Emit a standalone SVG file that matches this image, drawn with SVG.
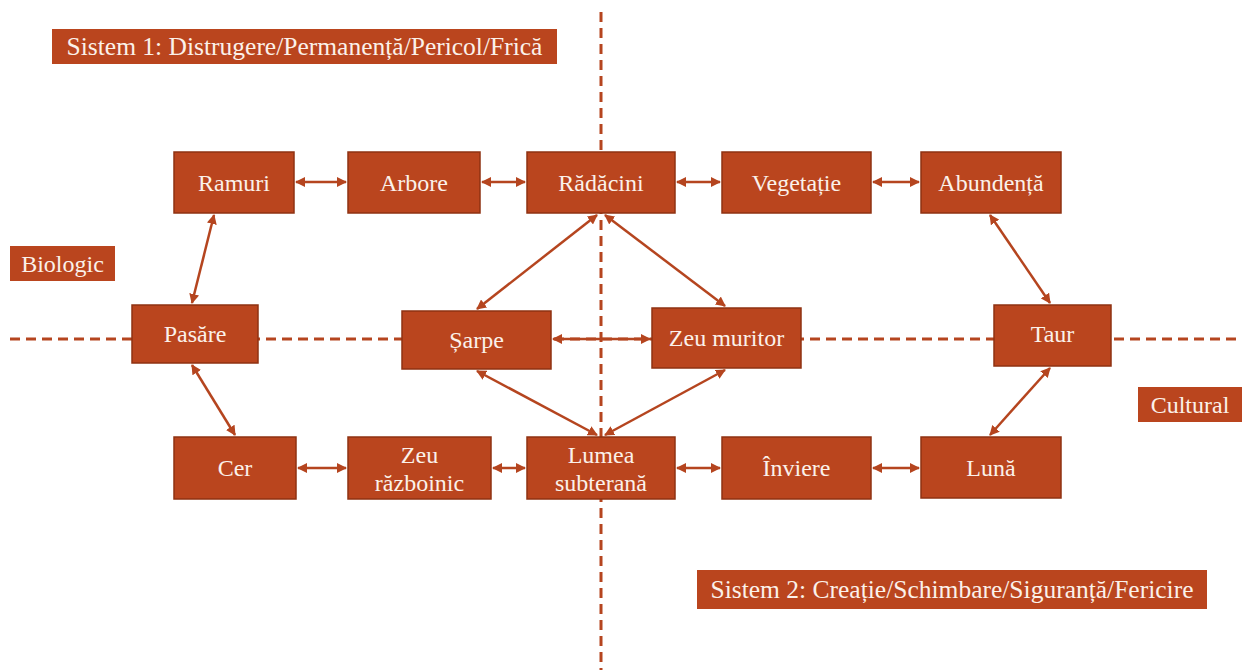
<svg xmlns="http://www.w3.org/2000/svg" width="1242" height="670" viewBox="0 0 1242 670">
<style>
.box{fill:#BA451E;stroke:#8F3212;stroke-width:1.5}
.lbl{fill:#BA451E}
.t{font-family:"Liberation Serif",serif;font-size:24px;fill:#FBF1EA;text-anchor:middle;dominant-baseline:central}
.s{font-size:25.5px}
.dash{stroke:#B5451F;stroke-width:3;stroke-dasharray:10 6;fill:none}
.c{stroke:#B5451F;stroke-width:2.5;fill:none;marker-start:url(#ah);marker-end:url(#ah)}
</style>
<defs>
<marker id="ah" viewBox="0 0 10 10" refX="9" refY="5" markerWidth="4" markerHeight="4" orient="auto-start-reverse" markerUnits="strokeWidth">
<path d="M0,0 L10,5 L0,10 z" fill="#B5451F"/>
</marker>
</defs>
<g id="guides">
<line class="dash" x1="601" y1="12" x2="601" y2="670"/>
<line class="dash" x1="10" y1="339" x2="1242" y2="339"/>
</g>
<g id="connectors">
<line class="c" x1="296" y1="182" x2="346" y2="182"/>
<line class="c" x1="482" y1="182" x2="525" y2="182"/>
<line class="c" x1="677" y1="182" x2="720" y2="182"/>
<line class="c" x1="873" y1="182" x2="919" y2="182"/>
<line class="c" x1="214" y1="215" x2="192" y2="303"/>
<line class="c" x1="192" y1="365" x2="235" y2="435"/>
<line class="c" x1="597" y1="215" x2="477" y2="309"/>
<line class="c" x1="605" y1="215" x2="725" y2="306"/>
<line class="c" x1="553" y1="339" x2="650" y2="339"/>
<line class="c" x1="597" y1="435" x2="477" y2="371"/>
<line class="c" x1="605" y1="435" x2="725" y2="370"/>
<line class="c" x1="990" y1="215" x2="1050" y2="303"/>
<line class="c" x1="1050" y1="368" x2="990" y2="435"/>
<line class="c" x1="298" y1="468" x2="346" y2="468"/>
<line class="c" x1="493" y1="468" x2="525" y2="468"/>
<line class="c" x1="677" y1="468" x2="720" y2="468"/>
<line class="c" x1="873" y1="468" x2="919" y2="468"/>
</g>
<g id="sistem1"><rect class="lbl" x="52" y="29" width="505" height="35"/><text class="t s" x="304.5" y="46.5">Sistem 1: Distrugere/Permanență/Pericol/Frică</text></g>
<g id="sistem2"><rect class="lbl" x="697" y="570" width="510" height="39"/><text class="t s" x="952" y="589.5">Sistem 2: Creație/Schimbare/Siguranță/Fericire</text></g>
<g id="biologic"><rect class="lbl" x="10" y="246" width="105" height="35"/><text class="t" x="62.5" y="263.5">Biologic</text></g>
<g id="cultural"><rect class="lbl" x="1138" y="387" width="104" height="35"/><text class="t" x="1190" y="404.5">Cultural</text></g>
<g id="ramuri"><rect class="box" x="174" y="152" width="120" height="61"/><text class="t" x="234" y="182.5">Ramuri</text></g>
<g id="arbore"><rect class="box" x="348" y="152" width="132" height="61"/><text class="t" x="414" y="182.5">Arbore</text></g>
<g id="radacini"><rect class="box" x="527" y="152" width="148" height="61"/><text class="t" x="601" y="182.5">Rădăcini</text></g>
<g id="vegetatie"><rect class="box" x="722" y="152" width="149" height="61"/><text class="t" x="796.5" y="182.5">Vegetație</text></g>
<g id="abundenta"><rect class="box" x="921" y="152" width="140" height="61"/><text class="t" x="991" y="182.5">Abundență</text></g>
<g id="pasare"><rect class="box" x="132" y="305" width="126" height="58"/><text class="t" x="195" y="334">Pasăre</text></g>
<g id="sarpe"><rect class="box" x="402" y="311" width="149" height="58"/><text class="t" x="476.5" y="340">Șarpe</text></g>
<g id="zeu-muritor"><rect class="box" x="652" y="308" width="149" height="60"/><text class="t" x="726.5" y="338">Zeu muritor</text></g>
<g id="taur"><rect class="box" x="994" y="305" width="117" height="61"/><text class="t" x="1052.5" y="334">Taur</text></g>
<g id="cer"><rect class="box" x="174" y="437" width="122" height="62"/><text class="t" x="235" y="468">Cer</text></g>
<g id="zeu-razboinic"><rect class="box" x="348" y="437" width="143" height="62"/><text class="t" x="419.5" y="455">Zeu</text><text class="t" x="419.5" y="483">războinic</text></g>
<g id="lumea"><rect class="box" x="527" y="437" width="148" height="62"/><text class="t" x="601" y="455">Lumea</text><text class="t" x="601" y="483">subterană</text></g>
<g id="inviere"><rect class="box" x="722" y="437" width="149" height="62"/><text class="t" x="796.5" y="468">Înviere</text></g>
<g id="luna"><rect class="box" x="921" y="437" width="140" height="61"/><text class="t" x="991" y="467.5">Lună</text></g>
</svg>
